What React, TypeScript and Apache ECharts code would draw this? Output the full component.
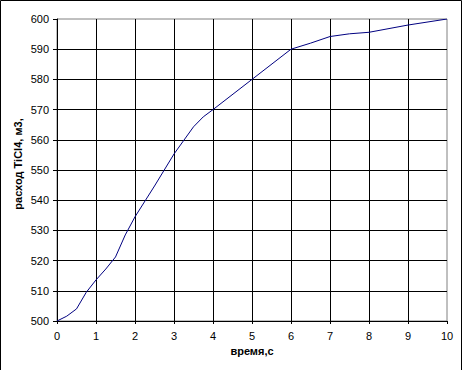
import React, { useEffect, useRef } from "react";
import * as echarts from "echarts";

const timeValues = [0, 0.25, 0.5, 0.75, 1, 1.25, 1.5, 1.75, 2, 2.5, 3, 3.5, 3.75, 4, 5, 6, 6.5, 7, 7.5, 8, 9, 10];
const flowValues = [500, 501.6, 504, 509.5, 513.6, 517.2, 521.2, 528.5, 534.5, 544.7, 555.3, 564.3, 567.6, 570, 580, 590, 592, 594.2, 595.1, 595.6, 598, 600];
const xAxisTitle = "время,с";
const yAxisTitle = "расход TiCl4, м3,";

export default function App() {
  const ref = useRef<HTMLDivElement>(null);
  useEffect(() => {
    document.body.style.margin = "0";
    const chart = echarts.init(ref.current!, null, { renderer: "svg" });
    const font = "'Liberation Sans', Arial, sans-serif";
    chart.setOption({
      animation: false,
      backgroundColor: "#ffffff",
      grid: {
        left: 57,
        top: 19,
        width: 390,
        height: 302,
        show: true,
        borderColor: "#808080",
        borderWidth: 1,
        backgroundColor: "#ffffff",
      },
      xAxis: {
        type: "value",
        min: 0,
        max: 10,
        interval: 1,
        axisLine: { show: true, onZero: false, lineStyle: { color: "#000", width: 1 } },
        axisTick: { show: true, inside: false, length: 3, lineStyle: { color: "#000" } },
        axisLabel: { color: "#000", fontSize: 11, fontFamily: font, margin: 9 },
        splitLine: { show: true, showMinLine: false, showMaxLine: false, lineStyle: { color: "#000", width: 1 } },
        name: xAxisTitle,
        nameLocation: "middle",
        nameGap: 23,
        nameTextStyle: { color: "#000", fontSize: 11, fontWeight: "bold", fontFamily: font },
      },
      yAxis: {
        type: "value",
        min: 500,
        max: 600,
        interval: 10,
        axisLine: { show: true, onZero: false, lineStyle: { color: "#000", width: 1 } },
        axisTick: { show: true, inside: false, length: 4, lineStyle: { color: "#000" } },
        axisLabel: { color: "#000", fontSize: 11, fontFamily: font, margin: 8 },
        splitLine: { show: true, showMinLine: false, showMaxLine: false, lineStyle: { color: "#000", width: 1 } },
      },
      graphic: [
        {
          type: "rect",
          shape: { x: 0.5, y: 0.5, width: 461, height: 380 },
          style: { fill: "none", stroke: "#000", lineWidth: 1 },
          silent: true,
        },
        {
          type: "text",
          x: 18,
          y: 164,
          rotation: Math.PI / 2,
          style: {
            text: yAxisTitle,
            fill: "#000",
            font: `bold 11px ${font}`,
            textAlign: "center",
            textVerticalAlign: "middle",
          },
          silent: true,
        },
      ],
      series: [
        {
          type: "line",
          data: timeValues.map((t, i) => [t, flowValues[i]]),
          showSymbol: false,
          symbol: "none",
          smooth: false,
          lineStyle: { color: "#000080", width: 1 },
        },
      ],
    });
    return () => chart.dispose();
  }, []);
  return <div ref={ref} style={{ width: 463, height: 370 }} />;
}
